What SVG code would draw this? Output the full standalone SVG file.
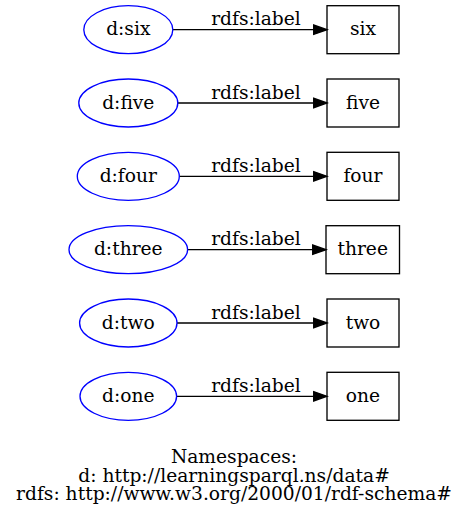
<svg xmlns="http://www.w3.org/2000/svg" width="469" height="519" viewBox="0 0 469 519">
<style>
text{font-family:"DejaVu Serif",serif;font-size:18.67px;text-anchor:middle;fill:#000}
.res ellipse{fill:none;stroke:#0000ff;stroke-width:1.33}
.lit rect{fill:none;stroke:#000;stroke-width:1.33}
#edges line{stroke:#000;stroke-width:1.33}
#edges polygon{fill:#000;stroke:#000;stroke-width:1.33}
</style>
<rect width="469" height="519" fill="#fff"/>
<g id="edges">
<line x1="172.8" y1="29.7" x2="313.7" y2="29.7"/><polygon points="327,29.7 313.7,25 313.7,34.4"/><text x="256" y="25.2">rdfs:label</text>
<line x1="177.8" y1="103" x2="313.7" y2="103"/><polygon points="327,103 313.7,98.3 313.7,107.7"/><text x="256" y="98.5">rdfs:label</text>
<line x1="179.3" y1="176.3" x2="313.7" y2="176.3"/><polygon points="327,176.3 313.7,171.6 313.7,181"/><text x="256" y="171.8">rdfs:label</text>
<line x1="187.6" y1="249.7" x2="312.7" y2="249.7"/><polygon points="326,249.7 312.7,245 312.7,254.4"/><text x="256" y="245.2">rdfs:label</text>
<line x1="177" y1="323" x2="313.7" y2="323"/><polygon points="327,323 313.7,318.3 313.7,327.7"/><text x="256" y="318.5">rdfs:label</text>
<line x1="176.6" y1="396.3" x2="313.7" y2="396.3"/><polygon points="327,396.3 313.7,391.6 313.7,401"/><text x="256" y="391.8">rdfs:label</text>
</g>
<g id="d_six" class="res"><ellipse cx="128.3" cy="29.7" rx="44.5" ry="24"/><text x="128.3" y="35.4">d:six</text></g>
<g id="six" class="lit"><rect x="327" y="5.7" width="72" height="48"/><text x="363" y="35.4">six</text></g>
<g id="d_five" class="res"><ellipse cx="128.3" cy="103" rx="49.5" ry="24"/><text x="128.3" y="108.7">d:five</text></g>
<g id="five" class="lit"><rect x="327" y="79" width="72" height="48"/><text x="363" y="108.7">five</text></g>
<g id="d_four" class="res"><ellipse cx="128.3" cy="176.3" rx="51" ry="24"/><text x="128.3" y="182">d:four</text></g>
<g id="four" class="lit"><rect x="327" y="152.3" width="72" height="48"/><text x="363" y="182">four</text></g>
<g id="d_three" class="res"><ellipse cx="128.3" cy="249.7" rx="59.3" ry="24"/><text x="128.3" y="255.4">d:three</text></g>
<g id="three" class="lit"><rect x="326" y="225.7" width="73.5" height="48"/><text x="362.7" y="255.4">three</text></g>
<g id="d_two" class="res"><ellipse cx="128.3" cy="323" rx="48.7" ry="24"/><text x="128.3" y="328.7">d:two</text></g>
<g id="two" class="lit"><rect x="327" y="299" width="72" height="48"/><text x="363" y="328.7">two</text></g>
<g id="d_one" class="res"><ellipse cx="128.3" cy="396.3" rx="48.3" ry="24"/><text x="128.3" y="402">d:one</text></g>
<g id="one" class="lit"><rect x="327" y="372.3" width="72" height="48"/><text x="363" y="402">one</text></g>
<g id="legend">
<text x="234" y="463">Namespaces:</text>
<text x="234" y="481.6">d: http://learningsparql.ns/data#</text>
<text x="234" y="500.3">rdfs: http://www.w3.org/2000/01/rdf-schema#</text>
</g>
</svg>
